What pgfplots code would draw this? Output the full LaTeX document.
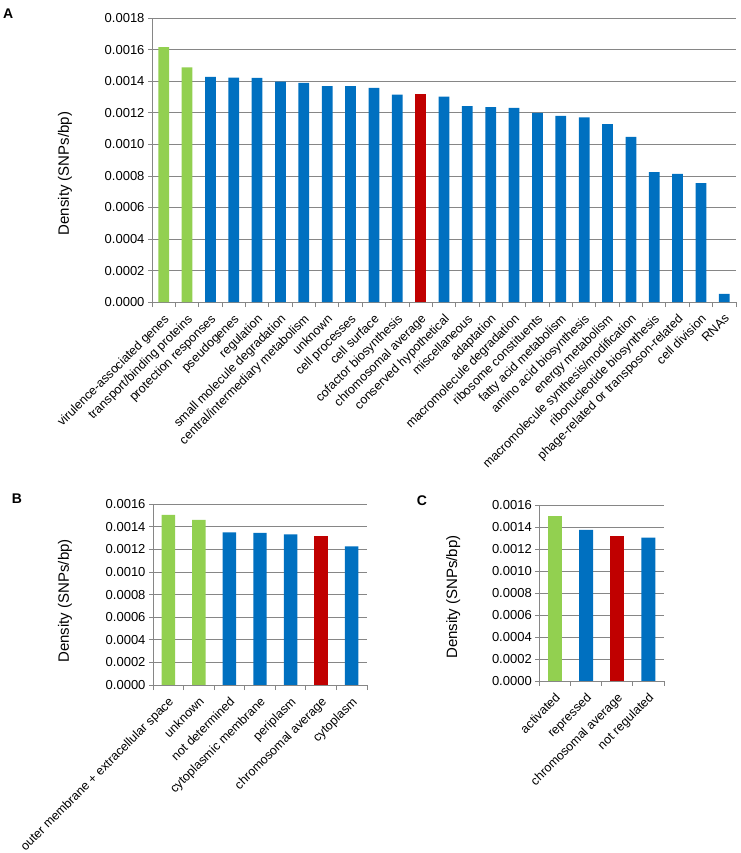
\documentclass[border=0pt]{standalone}
\usepackage{fontspec}
\setmainfont{Liberation Sans}
\usepackage{pgfplots}
\pgfplotsset{compat=1.18}
\definecolor{cgreen}{RGB}{146,208,80}
\definecolor{cblue}{RGB}{0,112,192}
\definecolor{cred}{RGB}{192,0,0}
\definecolor{cgrid}{RGB}{134,134,134}
\pgfplotsset{
  mystyle/.style={
    scale only axis,
    ybar,
    ymin=0,
    axis x line*=bottom, axis y line*=left,
    axis line style={cgrid, line width=0.9pt},
    ymajorgrids, grid style={cgrid, line width=0.9pt},
    tick align=outside,
    major tick length=4pt,
    minor tick length=5pt,
    major x tick style={draw=none},
    minor x tick style={cgrid, line width=0.9pt},
    ytick style={cgrid, line width=0.9pt},
    scaled y ticks=false,
    yticklabel style={/pgf/number format/fixed, /pgf/number format/fixed zerofill, /pgf/number format/precision=4, /pgf/number format/assume math mode=true},
    tick label style={font=\fontsize{13}{15}\selectfont, black},
    xticklabel style={font=\fontsize{12.5}{15}\selectfont, xshift=-0.5pt, yshift=-7pt, rotate=45, anchor=north east, inner sep=0pt},
    every axis y label/.style={rotate=90, anchor=center, font=\fontsize{15}{18}\selectfont},
    ylabel={Density (SNPs/bp)},
  }
}
\begin{document}
\begin{tikzpicture}
\useasboundingbox (0,0) rectangle (740pt,853pt);
% Panel A
\begin{axis}[mystyle,
  at={(152pt,550.8pt)}, anchor=south west,
  width=584pt, height=284pt,
  ymax=0.0018, xmin=-0.5, xmax=24.5,
  ytick={0,0.0002,0.0004,0.0006,0.0008,0.0010,0.0012,0.0014,0.0016,0.0018},
  xtick={0,...,24},
  minor xtick={-0.5,0.5,...,24.5},
  xticklabels={virulence-associated genes, transport/binding proteins, protection responses, pseudogenes, regulation, small molecule degradation, central/intermediary metabolism, unknown, cell processes, cell surface, cofactor biosynthesis, chromosomal average, conserved hypothetical, miscellaneous, adaptation, macromolecule degradation, ribosome constituents, fatty acid metabolism, amino acid biosynthesis, energy metabolism, macromolecule synthesis/modification, ribonucleotide biosynthesis, phage-related or transposon-related, cell division, RNAs},
  bar width=0.46,
  ylabel style={at={(axis description cs:-0.149,0.453)}},
]
\addplot[fill=cgreen, draw=none, bar shift=0pt] coordinates {(0,0.001616) (1,0.001489)};
\addplot[fill=cred, draw=none, bar shift=0pt] coordinates {(11,0.00132)};
\addplot[fill=cblue, draw=none, bar shift=0pt] coordinates {
(2,0.001428) (3,0.001424) (4,0.001422) (5,0.001398) (6,0.00139) (7,0.001369)
(8,0.001369) (9,0.001358) (10,0.001316) (12,0.001303) (13,0.001242) (14,0.001236)
(15,0.001231) (16,0.0012) (17,0.001181) (18,0.001172) (19,0.001128) (20,0.001048)
(21,0.000824) (22,0.000813) (23,0.000754) (24,0.000052)};
\end{axis}
% Panel B
\begin{axis}[mystyle,
  at={(153pt,168pt)}, anchor=south west,
  width=214pt, height=180.7pt,
  ymax=0.0016, xmin=-0.5, xmax=6.5,
  ytick={0,0.0002,0.0004,0.0006,0.0008,0.0010,0.0012,0.0014,0.0016},
  xtick={0,...,6},
  minor xtick={-0.5,0.5,...,6.5},
  xticklabels={outer membrane + extracellular space, unknown, not determined, cytoplasmic membrane, periplasm, chromosomal average, cytoplasm},
  bar width=0.44,
  ylabel style={at={(axis description cs:-0.411,0.465)}},
]
\addplot[fill=cgreen, draw=none, bar shift=0pt] coordinates {(0,0.001506) (1,0.001461)};
\addplot[fill=cred, draw=none, bar shift=0pt] coordinates {(5,0.00132)};
\addplot[fill=cblue, draw=none, bar shift=0pt] coordinates {(2,0.001352) (3,0.001346) (4,0.001334) (6,0.001228)};
\end{axis}
% Panel C
\begin{axis}[mystyle,
  at={(539.3pt,172pt)}, anchor=south west,
  width=124.7pt, height=176pt,
  ymax=0.0016, xmin=-0.5, xmax=3.5,
  ytick={0,0.0002,0.0004,0.0006,0.0008,0.0010,0.0012,0.0014,0.0016},
  xtick={0,...,3},
  minor xtick={-0.5,0.5,...,3.5},
  xticklabels={activated, repressed, chromosomal average, not regulated},
  bar width=0.45,
  ylabel style={at={(axis description cs:-0.69,0.477)}},
]
\addplot[fill=cgreen, draw=none, bar shift=0pt] coordinates {(0,0.001503)};
\addplot[fill=cred, draw=none, bar shift=0pt] coordinates {(2,0.001321)};
\addplot[fill=cblue, draw=none, bar shift=0pt] coordinates {(1,0.001373) (3,0.001303)};
\end{axis}
\node[anchor=base west, font=\bfseries\fontsize{14}{16}\selectfont, inner sep=0pt] at (3pt,834.7pt) {A};
\node[anchor=base west, font=\bfseries\fontsize{14}{16}\selectfont, inner sep=0pt] at (11.7pt,349pt) {B};
\node[anchor=base west, font=\bfseries\fontsize{14}{16}\selectfont, inner sep=0pt] at (416.7pt,347pt) {C};
\end{tikzpicture}
\end{document}
